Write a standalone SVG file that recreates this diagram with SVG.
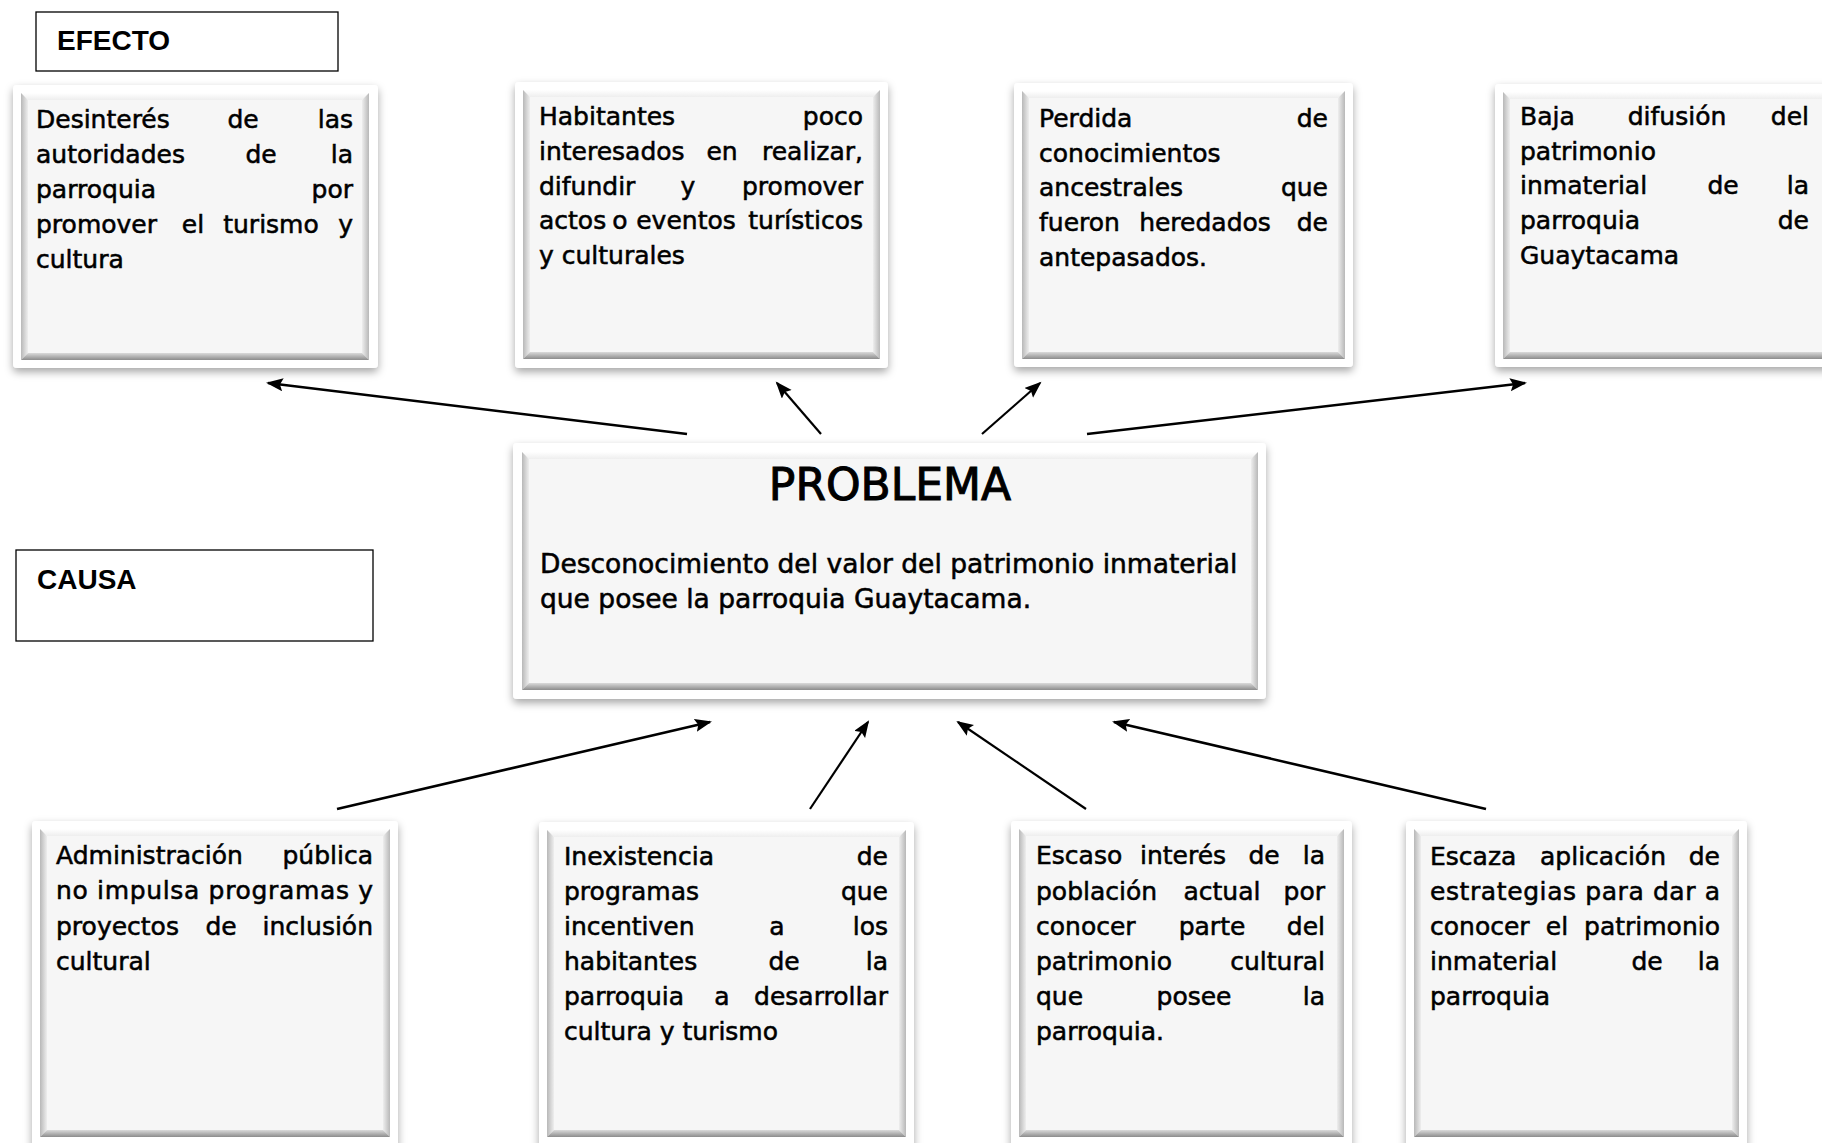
<svg xmlns="http://www.w3.org/2000/svg" width="1822" height="1143" viewBox="0 0 1822 1143">
<style>
.t{font-family:"DejaVu Sans","Liberation Sans",sans-serif;font-size:25px;fill:#000;stroke:#000;stroke-width:0.55px}
.m{text-anchor:middle}.e{text-anchor:end}
.lbl{font-family:"Liberation Sans",Arial,sans-serif;font-weight:bold;font-size:28px;fill:#000}
.lab{fill:#fff;stroke:#000;stroke-width:1.3}
.outer{fill:#fff;filter:url(#sh)}
.face{fill:#f6f6f6}
.bt{fill:url(#gT)}.bl{fill:url(#gL)}.br{fill:url(#gR)}.bb{fill:url(#gB)}
.arr{stroke:#000;stroke-width:2.6;fill:none;marker-end:url(#ah)}
</style>
<defs>
<filter id="sh" x="-10%" y="-10%" width="120%" height="125%"><feDropShadow dx="0" dy="4" stdDeviation="4" flood-color="#000" flood-opacity="0.35"/></filter>
<linearGradient id="gT" x1="0" y1="0" x2="0" y2="1"><stop offset="0" stop-color="#ffffff"/><stop offset="1" stop-color="#eeeeee"/></linearGradient>
<linearGradient id="gL" x1="0" y1="0" x2="1" y2="0"><stop offset="0" stop-color="#b8b8b8"/><stop offset="1" stop-color="#eeeeee"/></linearGradient>
<linearGradient id="gR" x1="0" y1="0" x2="1" y2="0"><stop offset="0" stop-color="#eeeeee"/><stop offset="1" stop-color="#b8b8b8"/></linearGradient>
<linearGradient id="gB" x1="0" y1="0" x2="0" y2="1"><stop offset="0" stop-color="#dadada"/><stop offset="1" stop-color="#8c8c8c"/></linearGradient>
<marker id="ah" markerUnits="userSpaceOnUse" markerWidth="18" markerHeight="14" refX="15" refY="6.5" orient="auto"><path d="M0,0 L17,6.5 L0,13 L3,6.5 z" fill="#000"/></marker>
</defs>
<rect width="1822" height="1143" fill="#fff"/>

<g id="efecto-label"><rect class="lab" x="36" y="12" width="302" height="59"/><text class="lbl" x="57" y="50">EFECTO</text></g>
<g id="causa-label"><rect class="lab" x="16" y="550" width="357" height="91"/><text class="lbl" x="37" y="589">CAUSA</text></g>

<g id="efecto1">
<rect class="outer" x="13" y="85" width="365" height="283" rx="4"/>
<rect class="face" x="21" y="93" width="348" height="267"/>
<polygon class="bt" points="21,93 369,93 362,100 28,100"/>
<polygon class="bl" points="21,93 28,100 28,353 21,360"/>
<polygon class="br" points="369,93 369,360 362,353 362,100"/>
<polygon class="bb" points="21,360 28,353 362,353 369,360"/>
<text class="t" x="36" y="128">Desinterés</text><text class="t m" x="243" y="128">de</text><text class="t e" x="353" y="128">las</text>
<text class="t" x="36" y="163">autoridades</text><text class="t m" x="261" y="163">de</text><text class="t e" x="353" y="163">la</text>
<text class="t" x="36" y="198">parroquia</text><text class="t e" x="353" y="198">por</text>
<text class="t" x="36" y="233">promover</text><text class="t m" x="193" y="233">el</text><text class="t m" x="271" y="233">turismo</text><text class="t e" x="353" y="233">y</text>
<text class="t" x="36" y="268">cultura</text>
</g>

<g id="efecto2">
<rect class="outer" x="515" y="82" width="373" height="286" rx="4"/>
<rect class="face" x="523" y="90" width="357" height="269"/>
<polygon class="bt" points="523,90 880,90 873,97 530,97"/>
<polygon class="bl" points="523,90 530,97 530,352 523,359"/>
<polygon class="br" points="880,90 880,359 873,352 873,97"/>
<polygon class="bb" points="523,359 530,352 873,352 880,359"/>
<text class="t" x="539" y="125">Habitantes</text><text class="t e" x="863" y="125">poco</text>
<text class="t" x="539" y="160">interesados</text><text class="t m" x="722" y="160">en</text><text class="t e" x="863" y="160">realizar,</text>
<text class="t" x="539" y="195">difundir</text><text class="t m" x="688" y="195">y</text><text class="t e" x="863" y="195">promover</text>
<text class="t" x="539" y="229">actos</text><text class="t m" x="620" y="229">o</text><text class="t m" x="686" y="229">eventos</text><text class="t e" x="863" y="229">turísticos</text>
<text class="t" x="539" y="264">y culturales</text>
</g>

<g id="efecto3">
<rect class="outer" x="1014" y="83" width="339" height="284" rx="4"/>
<rect class="face" x="1022" y="91" width="323" height="268"/>
<polygon class="bt" points="1022,91 1345,91 1338,98 1029,98"/>
<polygon class="bl" points="1022,91 1029,98 1029,352 1022,359"/>
<polygon class="br" points="1345,91 1345,359 1338,352 1338,98"/>
<polygon class="bb" points="1022,359 1029,352 1338,352 1345,359"/>
<text class="t" x="1039" y="127">Perdida</text><text class="t e" x="1328" y="127">de</text>
<text class="t" x="1039" y="162">conocimientos</text>
<text class="t" x="1039" y="196">ancestrales</text><text class="t e" x="1328" y="196">que</text>
<text class="t" x="1039" y="231">fueron</text><text class="t m" x="1205" y="231">heredados</text><text class="t e" x="1328" y="231">de</text>
<text class="t" x="1039" y="266">antepasados.</text>
</g>

<g id="efecto4">
<rect class="outer" x="1495" y="84" width="340" height="283" rx="4"/>
<rect class="face" x="1503" y="92" width="330" height="267"/>
<polygon class="bt" points="1503,92 1833,92 1833,99 1510,99"/>
<polygon class="bl" points="1503,92 1510,99 1510,352 1503,359"/>
<polygon class="bb" points="1503,359 1510,352 1833,352 1833,359"/>
<text class="t" x="1520" y="125">Baja</text><text class="t m" x="1677" y="125">difusión</text><text class="t e" x="1809" y="125">del</text>
<text class="t" x="1520" y="160">patrimonio</text>
<text class="t" x="1520" y="194">inmaterial</text><text class="t m" x="1723" y="194">de</text><text class="t e" x="1809" y="194">la</text>
<text class="t" x="1520" y="229">parroquia</text><text class="t e" x="1809" y="229">de</text>
<text class="t" x="1520" y="264">Guaytacama</text>
</g>

<g id="problema">
<rect class="outer" x="513" y="443" width="753" height="256" rx="4"/>
<rect class="face" x="522" y="452" width="736" height="238"/>
<polygon class="bt" points="522,452 1258,452 1251,459 529,459"/>
<polygon class="bl" points="522,452 529,459 529,683 522,690"/>
<polygon class="br" points="1258,452 1258,690 1251,683 1251,459"/>
<polygon class="bb" points="522,690 529,683 1251,683 1258,690"/>
<text class="t m" x="890" y="500" style="font-size:44px;stroke-width:1px">PROBLEMA</text>
<text class="t" x="540" y="573" style="font-size:26.5px">Desconocimiento del valor del patrimonio inmaterial</text>
<text class="t" x="540" y="608" style="font-size:26.5px">que posee la parroquia Guaytacama.</text>
</g>

<g id="causa1">
<rect class="outer" x="32" y="821" width="366" height="330" rx="4"/>
<rect class="face" x="40" y="829" width="350" height="308"/>
<polygon class="bt" points="40,829 390,829 383,836 47,836"/>
<polygon class="bl" points="40,829 47,836 47,1130 40,1137"/>
<polygon class="br" points="390,829 390,1137 383,1130 383,836"/>
<polygon class="bb" points="40,1137 47,1130 383,1130 390,1137"/>
<text class="t" x="56" y="864">Administración</text><text class="t e" x="373" y="864">pública</text>
<text class="t" x="56" y="899" textLength="317" lengthAdjust="spacing">no impulsa programas y</text>
<text class="t" x="56" y="935">proyectos</text><text class="t m" x="221" y="935">de</text><text class="t e" x="373" y="935">inclusión</text>
<text class="t" x="56" y="970">cultural</text>
</g>

<g id="causa2">
<rect class="outer" x="539" y="822" width="375" height="329" rx="4"/>
<rect class="face" x="547" y="830" width="359" height="307"/>
<polygon class="bt" points="547,830 906,830 899,837 554,837"/>
<polygon class="bl" points="547,830 554,837 554,1130 547,1137"/>
<polygon class="br" points="906,830 906,1137 899,1130 899,837"/>
<polygon class="bb" points="547,1137 554,1130 899,1130 906,1137"/>
<text class="t" x="564" y="865">Inexistencia</text><text class="t e" x="888" y="865">de</text>
<text class="t" x="564" y="900">programas</text><text class="t e" x="888" y="900">que</text>
<text class="t" x="564" y="935">incentiven</text><text class="t m" x="777" y="935">a</text><text class="t e" x="888" y="935">los</text>
<text class="t" x="564" y="970">habitantes</text><text class="t m" x="784" y="970">de</text><text class="t e" x="888" y="970">la</text>
<text class="t" x="564" y="1005">parroquia</text><text class="t m" x="722" y="1005">a</text><text class="t e" x="888" y="1005">desarrollar</text>
<text class="t" x="564" y="1040">cultura y turismo</text>
</g>

<g id="causa3">
<rect class="outer" x="1011" y="821" width="341" height="330" rx="4"/>
<rect class="face" x="1019" y="829" width="325" height="308"/>
<polygon class="bt" points="1019,829 1344,829 1337,836 1026,836"/>
<polygon class="bl" points="1019,829 1026,836 1026,1130 1019,1137"/>
<polygon class="br" points="1344,829 1344,1137 1337,1130 1337,836"/>
<polygon class="bb" points="1019,1137 1026,1130 1337,1130 1344,1137"/>
<text class="t" x="1036" y="864">Escaso</text><text class="t m" x="1183" y="864">interés</text><text class="t m" x="1264" y="864">de</text><text class="t e" x="1325" y="864">la</text>
<text class="t" x="1036" y="900">población</text><text class="t m" x="1222" y="900">actual</text><text class="t e" x="1325" y="900">por</text>
<text class="t" x="1036" y="935">conocer</text><text class="t m" x="1212" y="935">parte</text><text class="t e" x="1325" y="935">del</text>
<text class="t" x="1036" y="970">patrimonio</text><text class="t e" x="1325" y="970">cultural</text>
<text class="t" x="1036" y="1005">que</text><text class="t m" x="1194" y="1005">posee</text><text class="t e" x="1325" y="1005">la</text>
<text class="t" x="1036" y="1040">parroquia.</text>
</g>

<g id="causa4">
<rect class="outer" x="1406" y="821" width="341" height="330" rx="4"/>
<rect class="face" x="1414" y="829" width="325" height="308"/>
<polygon class="bt" points="1414,829 1739,829 1732,836 1421,836"/>
<polygon class="bl" points="1414,829 1421,836 1421,1130 1414,1137"/>
<polygon class="br" points="1739,829 1739,1137 1732,1130 1732,836"/>
<polygon class="bb" points="1414,1137 1421,1130 1732,1130 1739,1137"/>
<text class="t" x="1430" y="865">Escaza</text><text class="t m" x="1603" y="865">aplicación</text><text class="t e" x="1720" y="865">de</text>
<text class="t" x="1430" y="900" textLength="290" lengthAdjust="spacing">estrategias para dar a</text>
<text class="t" x="1430" y="935">conocer</text><text class="t m" x="1557" y="935">el</text><text class="t e" x="1720" y="935">patrimonio</text>
<text class="t" x="1430" y="970">inmaterial</text><text class="t m" x="1647" y="970">de</text><text class="t e" x="1720" y="970">la</text>
<text class="t" x="1430" y="1005">parroquia</text>
</g>

<g id="connectors">
<line class="arr" x1="687" y1="434" x2="268" y2="383"/>
<line class="arr" x1="821" y1="434" x2="777" y2="383" style="stroke-width:2.2"/>
<line class="arr" x1="982" y1="434" x2="1040" y2="383" style="stroke-width:2.2"/>
<line class="arr" x1="1087" y1="434" x2="1525" y2="383"/>
<line class="arr" x1="337" y1="809" x2="710" y2="722"/>
<line class="arr" x1="810" y1="809" x2="868" y2="722" style="stroke-width:2.2"/>
<line class="arr" x1="1086" y1="809" x2="958" y2="722" style="stroke-width:2.2"/>
<line class="arr" x1="1486" y1="809" x2="1114" y2="722"/>
</g>
</svg>
